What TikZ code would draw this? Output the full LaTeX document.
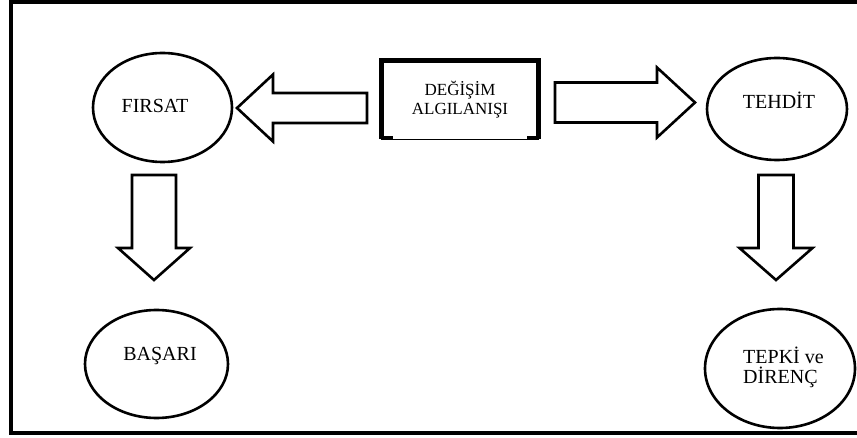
\documentclass[tikz,border=0pt]{standalone}
\usepackage{fontspec}
\setmainfont{Liberation Serif}
\usetikzlibrary{shapes.geometric,calc}
% Hollow block arrow pointing left/right: tail, tip, shaft half-width, head half-width, head length (signed)
\newcommand\hblockarrow[5]{%
  \draw[blockarrow] ($(#1)+(0,-#3)$) -- ($(#2)+(#5,-#3)$) -- ($(#2)+(#5,-#4)$) -- (#2)
    -- ($(#2)+(#5,#4)$) -- ($(#2)+(#5,#3)$) -- ($(#1)+(0,#3)$) -- cycle;}
% Hollow block arrow pointing up/down: same arguments
\newcommand\vblockarrow[5]{%
  \draw[blockarrow] ($(#1)+(-#3,0)$) -- ($(#2)+(-#3,#5)$) -- ($(#2)+(-#4,#5)$) -- (#2)
    -- ($(#2)+(#4,#5)$) -- ($(#2)+(#3,#5)$) -- ($(#1)+(#3,0)$) -- cycle;}
\begin{document}
\begin{tikzpicture}[x=1pt,y=-1pt,
  oval/.style={draw,ellipse,line width=2.6pt,inner sep=0pt},
  lbl/.style={inner sep=0pt,font=\fontsize{20}{20}\selectfont},
  boxlbl/.style={inner sep=0pt,align=center,font=\fontsize{17}{19}\selectfont},
  blockarrow/.style={draw,line width=2.6pt,fill=white,line join=miter}]
\useasboundingbox (0,0) rectangle (857,438);
% outer frame
\draw[line width=4pt] (10.5,2) rectangle (862,432.5);

% central box
\node[boxlbl,minimum width=157pt,minimum height=78.5pt] (degisim) at (460,99.75) {DEĞİŞİM\\ALGILANIŞI};
\draw[line width=5pt,line join=miter] (degisim.south west) -- (degisim.north west) -- (degisim.north east) -- (degisim.south east);
\draw[line width=1.2pt] (degisim.south west) -- (degisim.south east);
\draw[line width=3pt] ([yshift=1.5pt]degisim.south west) -- ++(12,0);
\draw[line width=3pt] ([yshift=1.5pt]degisim.south east) -- ++(-12,0);

% outcome ellipses
\node[oval,minimum width=139pt,minimum height=109pt] (firsat) at (162.5,107.5) {};
\node[oval,minimum width=140pt,minimum height=102pt] (tehdit) at (777,109) {};
\node[oval,minimum width=143pt,minimum height=108pt] (basari) at (156.5,364) {};
\node[oval,minimum width=150pt,minimum height=119pt] (tepki) at (780,368.5) {};

\node[lbl,anchor=base] (tfirsat) at (155,113) {FIRSAT};
\node[lbl,anchor=base] (ttehdit) at (779,108.3) {TEHDİT};
\node[lbl,anchor=base] (tbasari) at (160,360) {BAŞARI};
\node[lbl,anchor=base west,align=left] (ttepki) at (743,383) {TEPKİ ve\\DİRENÇ};

% arrow end points
\coordinate (l-tail) at (367,108);
\coordinate (l-tip)  at (237,108);
\coordinate (r-tail) at (555,102.5);
\coordinate (r-tip)  at (695,102.5);
\coordinate (ld-tail) at (154,175);
\coordinate (ld-tip)  at (154,280);
\coordinate (rd-tail) at (776,175);
\coordinate (rd-tip)  at (776,280);

% block arrows
\hblockarrow{l-tail}{l-tip}{15}{33.5}{36}
\hblockarrow{r-tail}{r-tip}{20}{35}{-38}
\vblockarrow{ld-tail}{ld-tip}{22}{36}{-32}
\vblockarrow{rd-tail}{rd-tip}{17.5}{36.5}{-32}
\end{tikzpicture}
\end{document}
